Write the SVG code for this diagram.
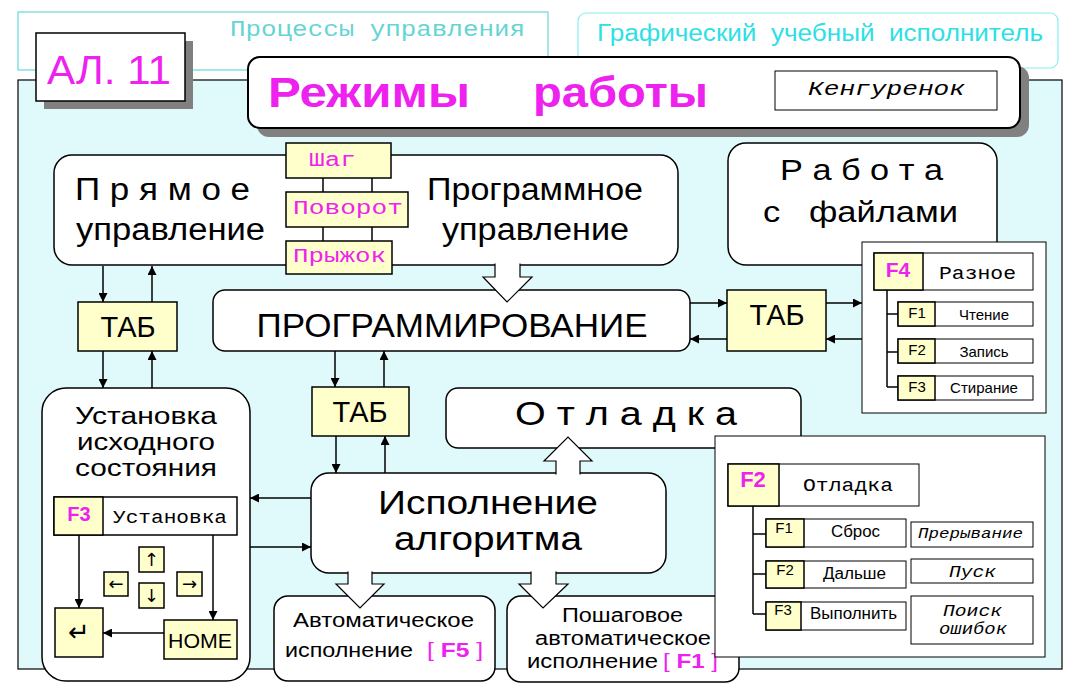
<svg xmlns="http://www.w3.org/2000/svg" width="1078" height="693" viewBox="0 0 1078 693">
<defs>
<marker id="ah" viewBox="0 0 10 10" refX="10" refY="5" markerWidth="11" markerHeight="9" markerUnits="userSpaceOnUse" orient="auto"><path d="M0,0 L10,5 L0,10 z" fill="#000"/></marker>
</defs>
<style>
.box{fill:#fff;stroke:#000;stroke-width:1.5}
.yel{fill:#ffffcc;stroke:#000;stroke-width:1.5}
.thin{fill:#fff;stroke:#000;stroke-width:1}
.t{font-family:"Liberation Sans",Arial,sans-serif;fill:#000}
.m{font-family:"Liberation Mono","Courier New",monospace;fill:#000}
.mg{fill:#ee22ee}
.b{font-weight:bold}
.i{font-style:italic}
.mid{text-anchor:middle}
.ln{stroke:#000;stroke-width:1.5;fill:none}
.ar{stroke:#000;stroke-width:1.5;fill:none;marker-end:url(#ah)}
.hol{fill:#fff;stroke:#000;stroke-width:1.2}
.sh{fill:#808080}
.sym{font-family:"DejaVu Sans",sans-serif;fill:#000;text-anchor:middle}
</style>
<rect x="0" y="0" width="1078" height="693" fill="#fff"/>

<g id="panel"><rect x="18" y="80" width="1044" height="589" fill="#e0f9fb" stroke="#000" stroke-width="1.2"/></g>

<g id="header1">
<rect x="18" y="12" width="530" height="58" fill="#fff" stroke="#66d9d9" stroke-width="1.2"/>
<text x="230" y="36" class="m" style="fill:#66d4d4" font-size="22" textLength="295" lengthAdjust="spacingAndGlyphs">Процессы управления</text>
</g>
<g id="header2">
<rect x="578" y="13" width="480" height="55" rx="8" fill="#fff" stroke="#88eeee" stroke-width="1.2"/>
<text x="597" y="41" class="t" style="fill:#2ee0e6" font-size="23" textLength="446" lengthAdjust="spacingAndGlyphs" xml:space="preserve">Графический  учебный  исполнитель</text>
</g>

<g id="al11">
<rect x="44" y="41" width="149" height="68" class="sh"/>
<rect x="36" y="33" width="149" height="68" class="box"/>
<text x="47" y="84" class="t mg" font-size="41" textLength="124" lengthAdjust="spacingAndGlyphs">АЛ. 11</text>
</g>

<g id="title">
<rect x="257" y="66" width="772" height="71" rx="12" class="sh"/>
<rect x="248" y="57" width="772" height="71" rx="12" fill="#fff" stroke="#000" stroke-width="2"/>
<text x="268" y="107" class="t b mg" font-size="43" textLength="202" lengthAdjust="spacingAndGlyphs">Режимы</text>
<text x="533" y="107" class="t b mg" font-size="43" textLength="175" lengthAdjust="spacingAndGlyphs">работы</text>
<rect x="775" y="71" width="222" height="39" class="thin"/>
<text x="808" y="95" class="m i" font-size="20" textLength="157" lengthAdjust="spacingAndGlyphs">Кенгуренок</text>
</g>

<g id="control">
<rect x="54" y="155" width="624" height="110" rx="18" class="box"/>
<text x="75" y="200" class="t" font-size="31" textLength="175" lengthAdjust="spacingAndGlyphs" xml:space="preserve">П р я м о е</text>
<text x="76" y="240" class="t" font-size="31" textLength="189" lengthAdjust="spacingAndGlyphs">управление</text>
<text x="427" y="200" class="t" font-size="31" textLength="216" lengthAdjust="spacingAndGlyphs">Программное</text>
<text x="442" y="240" class="t" font-size="31" textLength="187" lengthAdjust="spacingAndGlyphs">управление</text>
</g>

<g id="cmds">
<line x1="323" y1="178" x2="323" y2="241" class="ln"/>
<line x1="372" y1="178" x2="372" y2="241" class="ln"/>
<rect x="286" y="143" width="105" height="35" class="yel"/>
<text x="309" y="166" class="m mg" font-size="20" textLength="47" lengthAdjust="spacingAndGlyphs">Шаг</text>
<rect x="286" y="192" width="122" height="35" class="yel"/>
<text x="293" y="214" class="m mg" font-size="20" textLength="110" lengthAdjust="spacingAndGlyphs">Поворот</text>
<rect x="286" y="241" width="106" height="33" class="yel"/>
<text x="293" y="262" class="m mg" font-size="20" textLength="93" lengthAdjust="spacingAndGlyphs">Прыжок</text>
</g>

<g id="tab1">
<rect x="78" y="302" width="99" height="49" class="yel"/>
<text x="128" y="337" class="t mid" font-size="29">ТАБ</text>
</g>

<g id="prog">
<rect x="213" y="290" width="477" height="61" rx="12" class="box"/>
<text x="452" y="337" class="t mid" font-size="33" textLength="391" lengthAdjust="spacingAndGlyphs">ПРОГРАММИРОВАНИЕ</text>
</g>

<g id="tab2">
<rect x="727" y="290" width="99" height="61" class="yel"/>
<text x="777" y="325" class="t mid" font-size="29">ТАБ</text>
</g>

<g id="files">
<rect x="728" y="143" width="269" height="122" rx="18" class="box"/>
<text x="780" y="180" class="t" font-size="30" textLength="163" lengthAdjust="spacingAndGlyphs" xml:space="preserve">Р а б о т а</text>
<text x="763" y="222" class="t" font-size="30" textLength="195" lengthAdjust="spacingAndGlyphs" xml:space="preserve">с   файлами</text>
</g>

<g id="f4menu">
<rect x="862" y="242" width="184" height="171" class="thin"/>
<path d="M887,290 V387 M887,314 H898 M887,352 H898 M887,387 H898" class="ln" stroke-width="1"/>
<rect x="874" y="253" width="159" height="37" class="thin" stroke-width="1.5"/>
<rect x="874" y="253" width="49" height="37" class="yel"/>
<text x="898" y="277" class="t b mid mg" font-size="21">F4</text>
<text x="939" y="279" class="m" font-size="19" textLength="77" lengthAdjust="spacingAndGlyphs">Разное</text>
<rect x="898" y="302" width="135" height="24" class="thin" stroke-width="1.5"/>
<rect x="898" y="302" width="37" height="24" class="yel"/>
<text x="917" y="318" class="t mid" font-size="15">F1</text>
<text x="984" y="320" class="t mid" font-size="15">Чтение</text>
<rect x="898" y="339" width="135" height="24" class="thin" stroke-width="1.5"/>
<rect x="898" y="339" width="37" height="24" class="yel"/>
<text x="917" y="355" class="t mid" font-size="15">F2</text>
<text x="984" y="357" class="t mid" font-size="15">Запись</text>
<rect x="898" y="376" width="135" height="24" class="thin" stroke-width="1.5"/>
<rect x="898" y="376" width="37" height="24" class="yel"/>
<text x="917" y="392" class="t mid" font-size="15">F3</text>
<text x="984" y="393" class="t mid" font-size="15">Стирание</text>
</g>

<g id="tab3">
<rect x="312" y="387" width="97" height="49" class="yel"/>
<text x="360" y="422" class="t mid" font-size="29">ТАБ</text>
</g>

<g id="debug">
<rect x="446" y="388" width="355" height="60" rx="12" class="box"/>
<text x="515" y="425" class="t" font-size="34" textLength="222" lengthAdjust="spacingAndGlyphs" xml:space="preserve">О т л а д к а</text>
</g>

<g id="exec">
<rect x="311" y="473" width="355" height="100" rx="18" class="box"/>
<text x="378" y="514" class="t" font-size="34" textLength="220" lengthAdjust="spacingAndGlyphs">Исполнение</text>
<text x="394" y="550" class="t" font-size="34" textLength="188" lengthAdjust="spacingAndGlyphs">алгоритма</text>
</g>

<g id="setup">
<rect x="42" y="388" width="208" height="293" rx="24" class="box"/>
<text x="75" y="424" class="t" font-size="23" textLength="142" lengthAdjust="spacingAndGlyphs">Установка</text>
<text x="77" y="450" class="t" font-size="23" textLength="138" lengthAdjust="spacingAndGlyphs">исходного</text>
<text x="75" y="476" class="t" font-size="23" textLength="142" lengthAdjust="spacingAndGlyphs">состояния</text>
<rect x="54" y="497" width="183" height="38" class="box"/>
<rect x="54" y="497" width="49" height="38" class="yel"/>
<text x="79" y="521" class="t b mid mg" font-size="20">F3</text>
<text x="113" y="523" class="m" font-size="18" textLength="114" lengthAdjust="spacingAndGlyphs">Установка</text>
<rect x="55" y="608" width="48" height="49" class="yel"/>
<text x="79" y="641" class="sym" font-size="26">↵</text>
<rect x="164" y="620" width="73" height="39" class="yel"/>
<text x="168" y="648" class="t" font-size="20" textLength="64" lengthAdjust="spacingAndGlyphs">HOME</text>
<rect x="139" y="547" width="25" height="25" class="yel" stroke-width="1"/>
<text x="151.5" y="566" class="sym" font-size="18">↑</text>
<rect x="104" y="572" width="24" height="24" class="yel" stroke-width="1"/>
<text x="116" y="590" class="sym" font-size="18">←</text>
<rect x="139" y="583" width="25" height="25" class="yel" stroke-width="1"/>
<text x="151.5" y="602" class="sym" font-size="18">↓</text>
<rect x="177" y="572" width="25" height="24" class="yel" stroke-width="1"/>
<text x="189.5" y="590" class="sym" font-size="18">→</text>
</g>

<g id="auto">
<rect x="274" y="596" width="221" height="85" rx="14" class="box"/>
<text x="293" y="627" class="t" font-size="21" textLength="181" lengthAdjust="spacingAndGlyphs">Автоматическое</text>
<text x="285" y="657" class="t" font-size="21" textLength="128" lengthAdjust="spacingAndGlyphs">исполнение</text>
<text x="427" y="657" class="t mg" font-size="21" textLength="56" lengthAdjust="spacingAndGlyphs">[ <tspan class="b">F5</tspan> ]</text>
</g>

<g id="step">
<rect x="507" y="596" width="232" height="86" rx="14" class="box"/>
<text x="562" y="622" class="t" font-size="20" textLength="121" lengthAdjust="spacingAndGlyphs">Пошаговое</text>
<text x="535" y="645" class="t" font-size="20" textLength="176" lengthAdjust="spacingAndGlyphs">автоматическое</text>
<text x="527" y="668" class="t" font-size="20" textLength="131" lengthAdjust="spacingAndGlyphs">исполнение</text>
<text x="663" y="668" class="t mg" font-size="20" textLength="55" lengthAdjust="spacingAndGlyphs">[ <tspan class="b">F1</tspan> ]</text>
</g>

<g id="f2menu">
<rect x="715" y="436" width="330" height="221" class="thin"/>
<path d="M753,506 V614 M753,534 H766 M753,574 H766 M753,614 H766" class="ln" stroke-width="1"/>
<rect x="728" y="464" width="191" height="42" class="thin" stroke-width="1.5"/>
<rect x="728" y="464" width="51" height="42" class="yel"/>
<text x="753" y="487" class="t b mid mg" font-size="22">F2</text>
<text x="803" y="491" class="m" font-size="19" textLength="90" lengthAdjust="spacingAndGlyphs">Отладка</text>
<rect x="766" y="519" width="140" height="28" class="thin" stroke-width="1.5"/>
<rect x="766" y="519" width="38" height="28" class="yel"/>
<text x="784" y="533" class="t mid" font-size="15">F1</text>
<text x="831" y="537" class="t" font-size="16" textLength="49" lengthAdjust="spacingAndGlyphs">Сброс</text>
<rect x="766" y="561" width="140" height="27" class="thin" stroke-width="1.5"/>
<rect x="766" y="561" width="38" height="27" class="yel"/>
<text x="785" y="575" class="t mid" font-size="15">F2</text>
<text x="823" y="579" class="t" font-size="16" textLength="63" lengthAdjust="spacingAndGlyphs">Дальше</text>
<rect x="766" y="602" width="140" height="28" class="thin" stroke-width="1.5"/>
<rect x="766" y="602" width="35" height="28" class="yel"/>
<text x="783" y="615" class="t mid" font-size="15">F3</text>
<text x="810" y="619" class="t" font-size="16" textLength="87" lengthAdjust="spacingAndGlyphs">Выполнить</text>
<rect x="911" y="522" width="122" height="25" class="thin"/>
<text x="918" y="538" class="m i" font-size="14" textLength="105" lengthAdjust="spacingAndGlyphs">Прерывание</text>
<rect x="911" y="559" width="122" height="24" class="thin"/>
<text x="949" y="577" class="m i" font-size="17" textLength="47" lengthAdjust="spacingAndGlyphs">Пуск</text>
<rect x="911" y="596" width="122" height="48" class="thin"/>
<text x="943" y="616" class="m i" font-size="16" textLength="59" lengthAdjust="spacingAndGlyphs">Поиск</text>
<text x="939" y="634" class="m i" font-size="16" textLength="68" lengthAdjust="spacingAndGlyphs">ошибок</text>
</g>

<g id="connectors">
<line x1="103" y1="266" x2="103" y2="302" class="ar"/>
<line x1="152" y1="302" x2="152" y2="266" class="ar"/>
<line x1="103" y1="351" x2="103" y2="388" class="ar"/>
<line x1="152" y1="388" x2="152" y2="351" class="ar"/>
<line x1="690" y1="303" x2="727" y2="303" class="ar"/>
<line x1="727" y1="339" x2="690" y2="339" class="ar"/>
<line x1="826" y1="303" x2="862" y2="303" class="ar"/>
<line x1="862" y1="339" x2="826" y2="339" class="ar"/>
<line x1="335" y1="351" x2="335" y2="387" class="ar"/>
<line x1="384" y1="387" x2="384" y2="351" class="ar"/>
<line x1="336" y1="436" x2="336" y2="473" class="ar"/>
<line x1="385" y1="473" x2="385" y2="436" class="ar"/>
<line x1="311" y1="498" x2="250" y2="498" class="ar"/>
<line x1="250" y1="547" x2="311" y2="547" class="ar"/>
<line x1="79" y1="535" x2="79" y2="608" class="ar"/>
<line x1="213" y1="535" x2="213" y2="620" class="ar"/>
<line x1="164" y1="633" x2="103" y2="633" class="ar"/>
<path d="M495,263.5 V277 H483 L507,302 L532,277 H520 V263.5" class="hol"/>
<path d="M556,474.5 V461 H544 L568,437 L592,461 H580 V474.5" class="hol"/>
<path d="M348,571.5 V584 H336 L360,608 L384,584 H372 V571.5" class="hol"/>
<path d="M531,571.5 V584 H519 L543,608 L568,584 H556 V571.5" class="hol"/>
</g>
</svg>
